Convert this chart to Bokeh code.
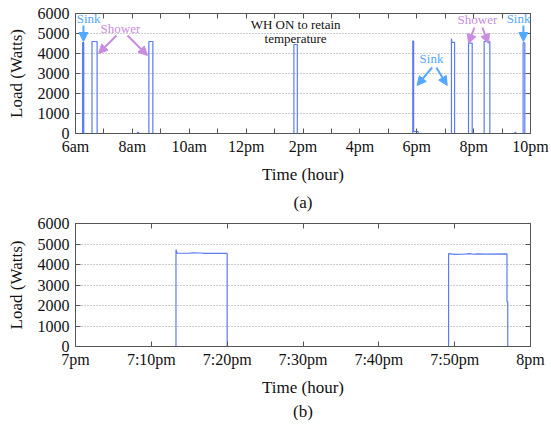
from bokeh.plotting import figure
from bokeh.models import (Range1d, FixedTicker, LinearAxis, Title, Arrow, NormalHead)
from bokeh.layouts import column
from bokeh.core.properties import value
from bokeh.embed import file_html
from bokeh.resources import INLINE

# ---------------- data: (a) one day, hours 6..22 ----------------
day_hours = [6.0, 6.25, 6.25, 6.29, 6.29, 6.58, 6.58, 6.76, 6.76, 8.18, 8.18, 8.22, 8.22,
             8.58, 8.58, 8.72, 8.72, 13.68, 13.68, 13.80, 13.80, 17.86, 17.86, 17.89, 17.89,
             18.05, 18.05, 19.22, 19.22, 19.235, 19.33, 19.33, 19.82, 19.82, 19.95, 19.95,
             20.37, 20.37, 20.57, 20.57, 21.45, 21.45, 21.48, 21.48, 21.74, 21.74, 21.80,
             21.80, 22.0]
day_load = [0, 0, 4550, 4550, 0, 0, 4600, 4600, 0, 0, 60, 60, 0,
            0, 4600, 4600, 0, 0, 4450, 4450, 0, 0, 4620, 4620, 100,
            100, 0, 0, 4750, 4560, 4560, 0, 0, 4520, 4520, 0,
            0, 4600, 4600, 0, 0, 60, 60, 0, 0, 4530, 4530,
            0, 0]

day_tick_values = [6, 8, 10, 12, 14, 16, 18, 20, 22]
day_tick_labels = ["6am", "8am", "10am", "12pm", "2pm", "4pm", "6pm", "8pm", "10pm"]
day_minor_ticks = [7, 9, 11, 13, 15, 17, 19, 21]

# ---------------- data: (b) 7pm..8pm, minutes ----------------
hour_minutes = [0, 13.25, 13.25, 13.4, 15.0, 15.5, 16.5, 17.0, 20.0, 20.0,
                49.2, 49.2, 49.5, 50.0, 51.0, 52.0, 52.5, 53.0, 54.0, 56.9, 56.9, 57.0, 57.0, 60]
hour_load = [0, 0, 4720, 4550, 4550, 4570, 4560, 4540, 4540, 0,
             0, 4530, 4520, 4490, 4500, 4530, 4500, 4520, 4510, 4520, 2200, 2200, 0, 0]

hour_tick_values = [0, 10, 20, 30, 40, 50, 60]
hour_tick_labels = ["7pm", "7:10pm", "7:20pm", "7:30pm", "7:40pm", "7:50pm", "8pm"]

y_ticks = [0, 1000, 2000, 3000, 4000, 5000, 6000]

# annotations for (a)
sink_text_x = [6.46, 18.52, 21.58]
sink_text_y = [5750, 3750, 5750]
shower_text_x = [7.58, 20.135]
shower_text_y = [5250, 5700]
wh_text_x = [13.74, 13.74]
wh_text_y = [5450, 4750]
wh_text = ["WH ON to retain", "temperature"]

sink_arrows = [  # x_start, y_start, x_end, y_end
    (6.28, 5400, 6.28, 4600),
    (18.54, 3300, 18.01, 2400),
    (18.69, 3300, 19.07, 2400),
    (21.75, 5400, 21.75, 4600),
]
shower_arrows = [
    (7.44, 4900, 6.81, 4000),
    (7.83, 4900, 8.53, 3900),
    (20.03, 5300, 19.82, 4500),
    (20.31, 5300, 20.52, 4500),
]

FONT = "Liberation Serif"
LINE = "#5a7cf0"
SINK = "#55a8ff"
SHOWER = "#c98ce0"
FRAME = "#555555"


def style(p, ticks, minor, labels, caption, cap_standoff):
    p.xgrid.visible = False
    p.ygrid.grid_line_color = "#999999"
    p.ygrid.grid_line_dash = "1 2"
    p.ygrid.ticker = FixedTicker(ticks=y_ticks)
    p.outline_line_color = FRAME
    p.outline_line_alpha = 1
    p.background_fill_color = "white"
    p.border_fill_color = "white"

    xa = p.xaxis[0]
    xa.ticker = FixedTicker(ticks=ticks, minor_ticks=minor)
    xa.major_label_overrides = labels
    ya = p.yaxis[0]
    ya.ticker = FixedTicker(ticks=y_ticks)
    for ax in (xa, ya):
        ax.axis_line_color = FRAME
        ax.major_tick_in = 5
        ax.major_tick_out = 0
        ax.minor_tick_in = 5
        ax.minor_tick_out = 0
        ax.major_tick_line_color = FRAME
        ax.minor_tick_line_color = FRAME
        ax.major_label_text_font = FONT
        ax.major_label_text_font_size = "16px"
        ax.major_label_text_color = "#111111"
        ax.axis_label_text_font = FONT
        ax.axis_label_text_font_size = "17px"
        ax.axis_label_text_font_style = "normal"
        ax.axis_label_text_color = "#111111"
    xa.major_label_standoff = 4
    xa.axis_label_standoff = 7
    ya.major_label_standoff = 6
    ya.axis_label_standoff = 9
    xa.axis_label = "Time (hour)"
    ya.axis_label = "Load (Watts)"

    top = LinearAxis(ticker=FixedTicker(ticks=ticks, minor_ticks=minor),
                     major_label_overrides={t: "" for t in ticks},
                     major_tick_in=5, major_tick_out=0, minor_tick_in=5, minor_tick_out=0,
                     axis_line_color=FRAME, major_tick_line_color=FRAME,
                     minor_tick_line_color=FRAME, major_label_standoff=0)
    right = LinearAxis(ticker=FixedTicker(ticks=y_ticks),
                       major_label_overrides={t: "" for t in y_ticks},
                       major_tick_in=5, major_tick_out=0, minor_tick_in=0, minor_tick_out=0,
                       axis_line_color=FRAME, major_tick_line_color=FRAME,
                       major_label_standoff=0)
    p.add_layout(top, "above")
    p.add_layout(right, "right")
    p.add_layout(Title(text=caption, align="center", text_font=FONT,
                       text_font_size="17px", text_font_style="normal",
                       text_color="#111111", standoff=cap_standoff), "below")


# ---------------- figure (a) ----------------
p1 = figure(frame_width=455, frame_height=120, output_backend="svg", toolbar_location=None,
            x_range=Range1d(6, 22), y_range=Range1d(0, 6000),
            min_border_left=75, min_border_right=21, min_border_top=13, min_border_bottom=77)
p1.line(day_hours, day_load, line_color=LINE, line_width=1.2)
style(p1, day_tick_values, day_minor_ticks,
      {v: l for v, l in zip(day_tick_values, day_tick_labels)}, "(a)", 8)

p1.text(x=sink_text_x, y=sink_text_y, text=["Sink"] * len(sink_text_x),
        text_font=value(FONT), text_font_size="13px", text_color=SINK,
        text_align="center", text_baseline="middle")
p1.text(x=shower_text_x, y=shower_text_y, text=["Shower"] * len(shower_text_x),
        text_font=value(FONT), text_font_size="13px", text_color=SHOWER,
        text_align="center", text_baseline="middle")
p1.text(x=wh_text_x, y=wh_text_y, text=wh_text,
        text_font=value(FONT), text_font_size="13px", text_color="#111111",
        text_align="center", text_baseline="middle")
for arrows, col in ((sink_arrows, SINK), (shower_arrows, SHOWER)):
    for xs, ys, xe, ye in arrows:
        p1.add_layout(Arrow(x_start=xs, y_start=ys, x_end=xe, y_end=ye,
                            line_color=col, line_width=2,
                            end=NormalHead(size=9, fill_color=col, line_color=col)))

# ---------------- figure (b) ----------------
p2 = figure(frame_width=455, frame_height=123, output_backend="svg", toolbar_location=None,
            x_range=Range1d(0, 60), y_range=Range1d(0, 6000),
            min_border_left=75, min_border_right=21, min_border_top=8, min_border_bottom=74)
p2.line(hour_minutes, hour_load, line_color=LINE, line_width=1.2)
style(p2, hour_tick_values, [],
      {v: l for v, l in zip(hour_tick_values, hour_tick_labels)}, "(b)", 0)

layout = column(p1, p2)
open("out.html", "w").write(file_html(layout, INLINE))
